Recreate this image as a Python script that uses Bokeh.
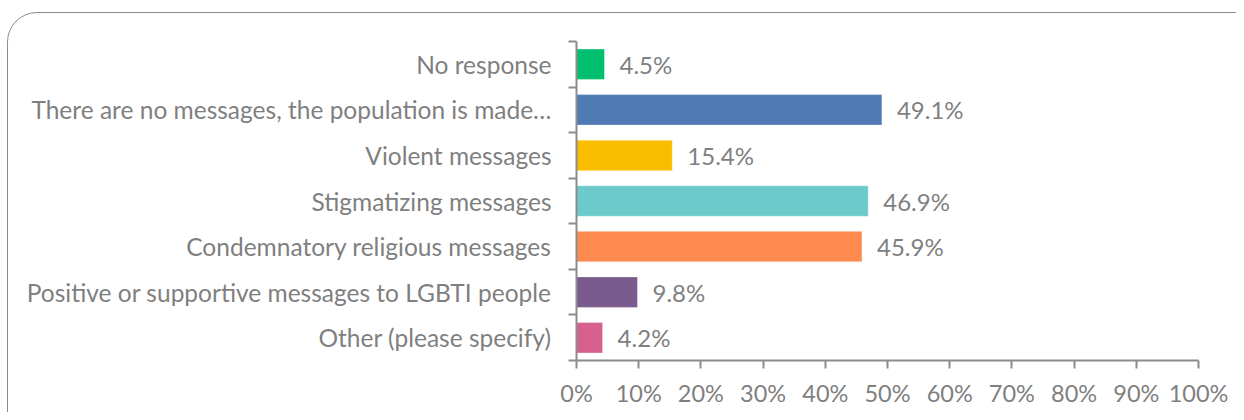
from bokeh.plotting import figure
from bokeh.models import Range1d, FixedTicker, ColumnDataSource, CustomJSTickFormatter, InlineStyleSheet
from bokeh.embed import file_html
from bokeh.resources import INLINE
from bokeh.core.properties import value

categories = [
    "No response",
    "There are no messages, the population is made…",
    "Violent messages",
    "Stigmatizing messages",
    "Condemnatory religious messages",
    "Positive or supportive messages to LGBTI people",
    "Other (please specify)",
]
values = [4.5, 49.1, 15.4, 46.9, 45.9, 9.8, 4.2]
colors = ["#00BF6F", "#4F7AB3", "#F9BE00", "#6CCACB", "#FF8A50", "#7B5B8E", "#D6608E"]
x_ticks = [0, 10, 20, 30, 40, 50, 60, 70, 80, 90, 100]

FONT = "Lato"
GREY = "#7F7F7F"
AX = "#8C8C8C"

n = len(categories)
centers = [i + 0.5 for i in range(n)]
src = ColumnDataSource(dict(
    y=centers, v=values, c=colors,
    lab=[f"{v:.1f}%" for v in values],
))

p = figure(width=1236, height=412, output_backend="svg", toolbar_location=None,
           x_range=Range1d(0, 100), y_range=Range1d(n, 0),
           min_border_left=576, min_border_right=38, min_border_top=41, min_border_bottom=52)
p.outline_line_color = None
p.xgrid.grid_line_color = None
p.ygrid.grid_line_color = None
p.background_fill_color = "white"
p.border_fill_color = "white"

p.hbar(y="y", left=0, right="v", height=0.67, fill_color="c", line_color="white",
       line_alpha=0.35, line_width=1, source=src)
p.text(x="v", y="y", text="lab", x_offset=15, text_baseline="middle", text_align="left",
       text_font=value(FONT), text_font_size="24px", text_color=GREY, source=src)

# y axis: labels at centres, ticks at boundaries
yax = p.yaxis[0]
yax.ticker = FixedTicker(ticks=centers, minor_ticks=list(range(n + 1)))
yax.major_label_overrides = {c: categories[i] for i, c in enumerate(centers)}
yax.major_tick_out = 0
yax.major_tick_in = 0
yax.minor_tick_out = 8
yax.minor_tick_in = 0
yax.minor_tick_line_color = AX
yax.minor_tick_line_width = 2
yax.axis_line_color = AX
yax.axis_line_width = 2
yax.major_label_standoff = 17
yax.major_label_text_font = FONT
yax.major_label_text_font_size = "24.5px"
yax.major_label_text_color = GREY

xax = p.xaxis[0]
xax.ticker = FixedTicker(ticks=x_ticks, minor_ticks=[])
xax.formatter = CustomJSTickFormatter(code="return tick + '%';")
xax.major_tick_out = 8
xax.major_tick_in = 0
xax.major_tick_line_color = AX
xax.major_tick_line_width = 2
xax.axis_line_color = AX
xax.axis_line_width = 2
xax.major_label_standoff = 10
xax.major_label_text_font = FONT
xax.major_label_text_font_size = "23.5px"
xax.major_label_text_color = GREY

p.stylesheets = [InlineStyleSheet(css="""
:host { position: relative; overflow: hidden; }
:host::after {
  content: '';
  position: absolute;
  left: 7px; top: 12px;
  width: 1260px; height: 470px;
  box-sizing: border-box;
  border: 1.5px solid #8C8C8C;
  border-radius: 30px;
  pointer-events: none;
  z-index: 10;
}
""")]

open("out.html", "w").write(file_html(p, INLINE))
